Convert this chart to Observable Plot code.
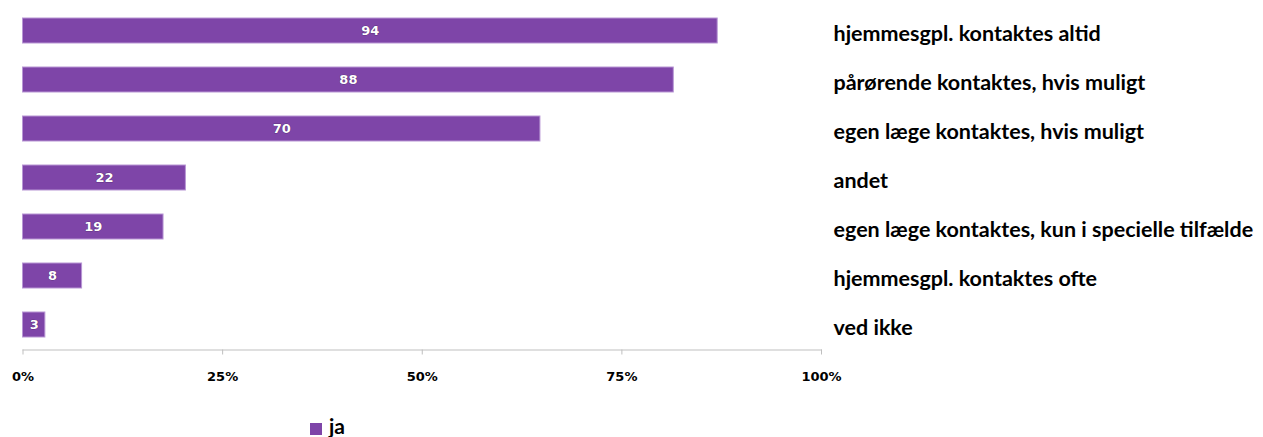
<!DOCTYPE html>
<html>
<head>
<meta charset="utf-8">
<script src="https://cdn.jsdelivr.net/npm/d3@7"></script>
<script src="https://cdn.jsdelivr.net/npm/@observablehq/plot@0.6"></script>
<style>
  html, body { margin: 0; padding: 0; background: #fff; }
  #chart svg { display: block; }
  .legend { position: relative; height: 27px; font-family: Lato, "DejaVu Sans", sans-serif; }
  .legend .sw { position: absolute; left: 310px; top: 13px; width: 12px; height: 12px; background: #7E45A8; }
  .legend .lb { position: absolute; left: 329px; top: 4px; font-size: 21px; font-weight: 700; color: #000; line-height: 24px; }
</style>
</head>
<body>
<div id="chart"></div>
<div class="legend"><span class="sw"></span><span class="lb">ja</span></div>
<script>
const categories = [
  "hjemmesgpl. kontaktes altid",
  "pårørende kontaktes, hvis muligt",
  "egen læge kontaktes, hvis muligt",
  "andet",
  "egen læge kontaktes, kun i specielle tilfælde",
  "hjemmesgpl. kontaktes ofte",
  "ved ikke"
];
const counts = [94, 88, 70, 22, 19, 8, 3];
const shares = [87.0, 81.5, 64.8, 20.4, 17.6, 7.4, 2.8];
const xTicks = [0, 25, 50, 75, 100];
const seriesName = "ja";

const data = categories.map((c, i) => ({category: c, count: counts[i], share: shares[i], series: seriesName}));

const purple = "#7E45A8";

const chart = Plot.plot({
  width: 1263,
  height: 410,
  marginLeft: 22.5,
  marginRight: 442,
  marginTop: 4.5,
  marginBottom: 60.5,
  style: {background: "#fff"},
  x: {domain: [0, 100]},
  y: {domain: categories, paddingInner: 0.493, paddingOuter: 0.233},
  marks: [
    Plot.frame({anchor: "bottom", stroke: "#bfbfbf"}),
    Plot.barX(data, {x: "share", y: "category", fill: purple, stroke: "#b896d4", strokeWidth: 1}),
    Plot.text(data, {
      x: d => d.share / 2, y: "category", text: d => String(d.count),
      fill: "#fff", fontWeight: 700, fontSize: 13, fontFamily: "DejaVu Sans",
      stroke: "#3a1d52", strokeWidth: 0.6, paintOrder: "stroke"
    }),
    Plot.axisX({
      anchor: "bottom", ticks: xTicks, tickFormat: d => d + "%", tickSize: 5, tickPadding: 17,
      stroke: "#bfbfbf", fill: "#000", fontWeight: 700, fontSize: 13, fontFamily: "DejaVu Sans",
      label: null
    }),
    Plot.axisY({
      anchor: "right", tickSize: 0, tickPadding: 12, textAnchor: "start",
      fill: "#000", fontWeight: 700, fontSize: 21.5, fontFamily: "Lato", dy: 3,
      label: null
    })
  ]
});
document.getElementById("chart").appendChild(chart);
</script>
</body>
</html>
